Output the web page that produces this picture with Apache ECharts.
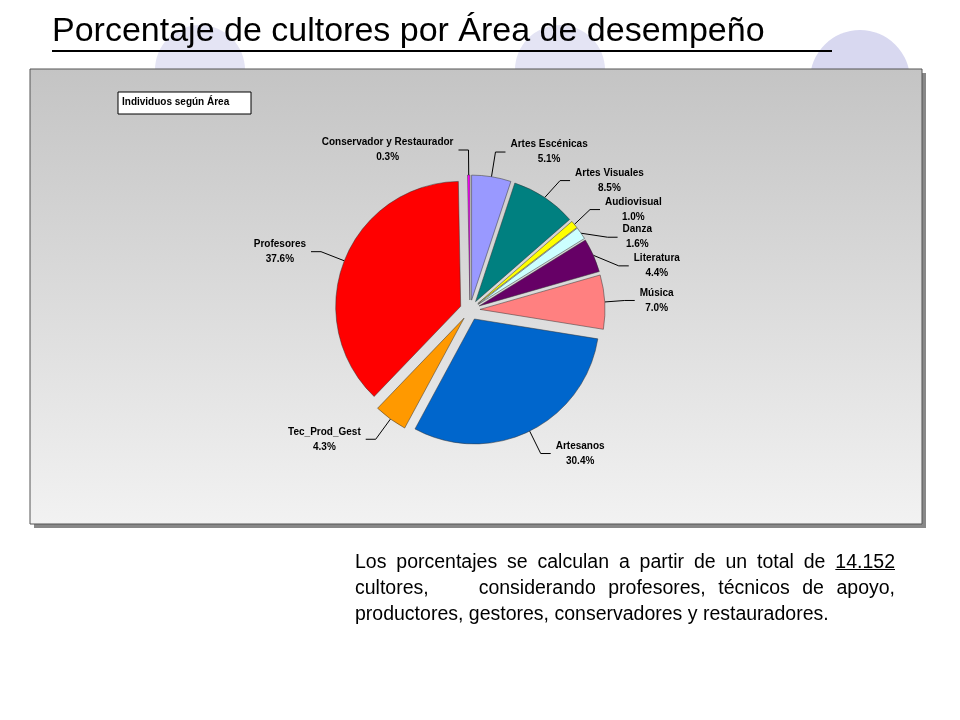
<!DOCTYPE html>
<html>
<head>
<meta charset="utf-8">
<script src="https://cdn.jsdelivr.net/npm/echarts@6/dist/echarts.min.js"></script>
<style>
  body { margin: 0; background: #fff; font-family: Arial, "Liberation Sans", sans-serif; }
  #chart { position: absolute; left: 0; top: 0; width: 960px; height: 720px; }
  #note { position: absolute; left: 355px; top: 548px; width: 540px; font-size: 19.5px; line-height: 26px; text-align: justify; color: #000; }
</style>
</head>
<body>
<div id="chart"></div>
<div id="note">Los porcentajes se calculan a partir de un total de <u>14.152</u> cultores,&nbsp;&nbsp;&nbsp; considerando profesores, técnicos de apoyo, productores, gestores, conservadores y restauradores.</div>
<script>
var areas = ['Artes Escénicas', 'Artes Visuales', 'Audiovisual', 'Danza', 'Literatura', 'Música', 'Artesanos', 'Tec_Prod_Gest', 'Profesores', 'Conservador y Restaurador'];
var percents = [5.1, 8.5, 1.0, 1.6, 4.4, 7.0, 30.4, 4.3, 37.6, 0.3];
var colors = ['#9999FF', '#008080', '#FFFF00', '#CCFFFF', '#660066', '#FF8080', '#0066CC', '#FF9900', '#FF0000', '#FF00FF'];

var myChart = echarts.init(document.getElementById('chart'));
myChart.setOption({
  animation: false,
  graphic: [
    { type: 'circle', shape: { cx: 860, cy: 80, r: 50 }, style: { fill: '#D8D8F0' }, z: 0 },
    { type: 'circle', shape: { cx: 560, cy: 70, r: 45 }, style: { fill: '#E4E4F4' }, z: 0 },
    { type: 'circle', shape: { cx: 200, cy: 70, r: 45 }, style: { fill: '#E4E4F4' }, z: 0 },
    { type: 'rect', shape: { x: 34, y: 73, width: 892, height: 455 }, style: { fill: '#888' }, z: 1 },
    { type: 'rect', shape: { x: 30, y: 69, width: 892, height: 455 },
      style: { stroke: '#555', lineWidth: 1, fill: new echarts.graphic.LinearGradient(0, 0, 0, 1, [{ offset: 0, color: '#C4C4C4' }, { offset: 1, color: '#F2F2F2' }]) }, z: 2 },
    { type: 'text', left: 52, top: 15, z: 3,
      style: { text: 'Porcentaje de cultores por Área de desempeño', fontFamily: 'Arial', fontSize: 34, fill: '#000' } },
    { type: 'rect', shape: { x: 52, y: 50, width: 780, height: 2 }, style: { fill: '#000' }, z: 3 },
    { type: 'rect', shape: { x: 118, y: 92, width: 133, height: 22 }, style: { fill: '#fff', stroke: '#000', lineWidth: 1 }, z: 3 },
    { type: 'text', left: 122, top: 97, z: 4,
      style: { text: 'Individuos según Área', fontFamily: 'Arial', fontWeight: 'bold', fontSize: 10, fill: '#000' } }
  ],
  series: [{
    type: 'pie',
    z: 5,
    center: [470, 310],
    radius: [0, 125],
    startAngle: 90,
    clockwise: true,
    selectedMode: 'multiple',
    selectedOffset: 10,
    label: {
      show: true,
      formatter: function (p) { return '{n|' + p.name + '}\n{v|' + p.value.toFixed(1) + '%}'; },
      rich: {
        n: { fontFamily: 'Arial', fontWeight: 'bold', fontSize: 10, color: '#000', align: 'center', lineHeight: 15 },
        v: { fontFamily: 'Arial', fontWeight: 'bold', fontSize: 10, color: '#000', align: 'center', lineHeight: 15 }
      }
    },
    labelLine: { show: true, length: 25, length2: 10, lineStyle: { color: '#000', width: 1 } },
    itemStyle: { borderColor: '#333', borderWidth: 0.5 },
    data: areas.map(function (a, i) {
      return { name: a, value: percents[i], selected: true, itemStyle: { color: colors[i] } };
    })
  }]
});
</script>
</body>
</html>
